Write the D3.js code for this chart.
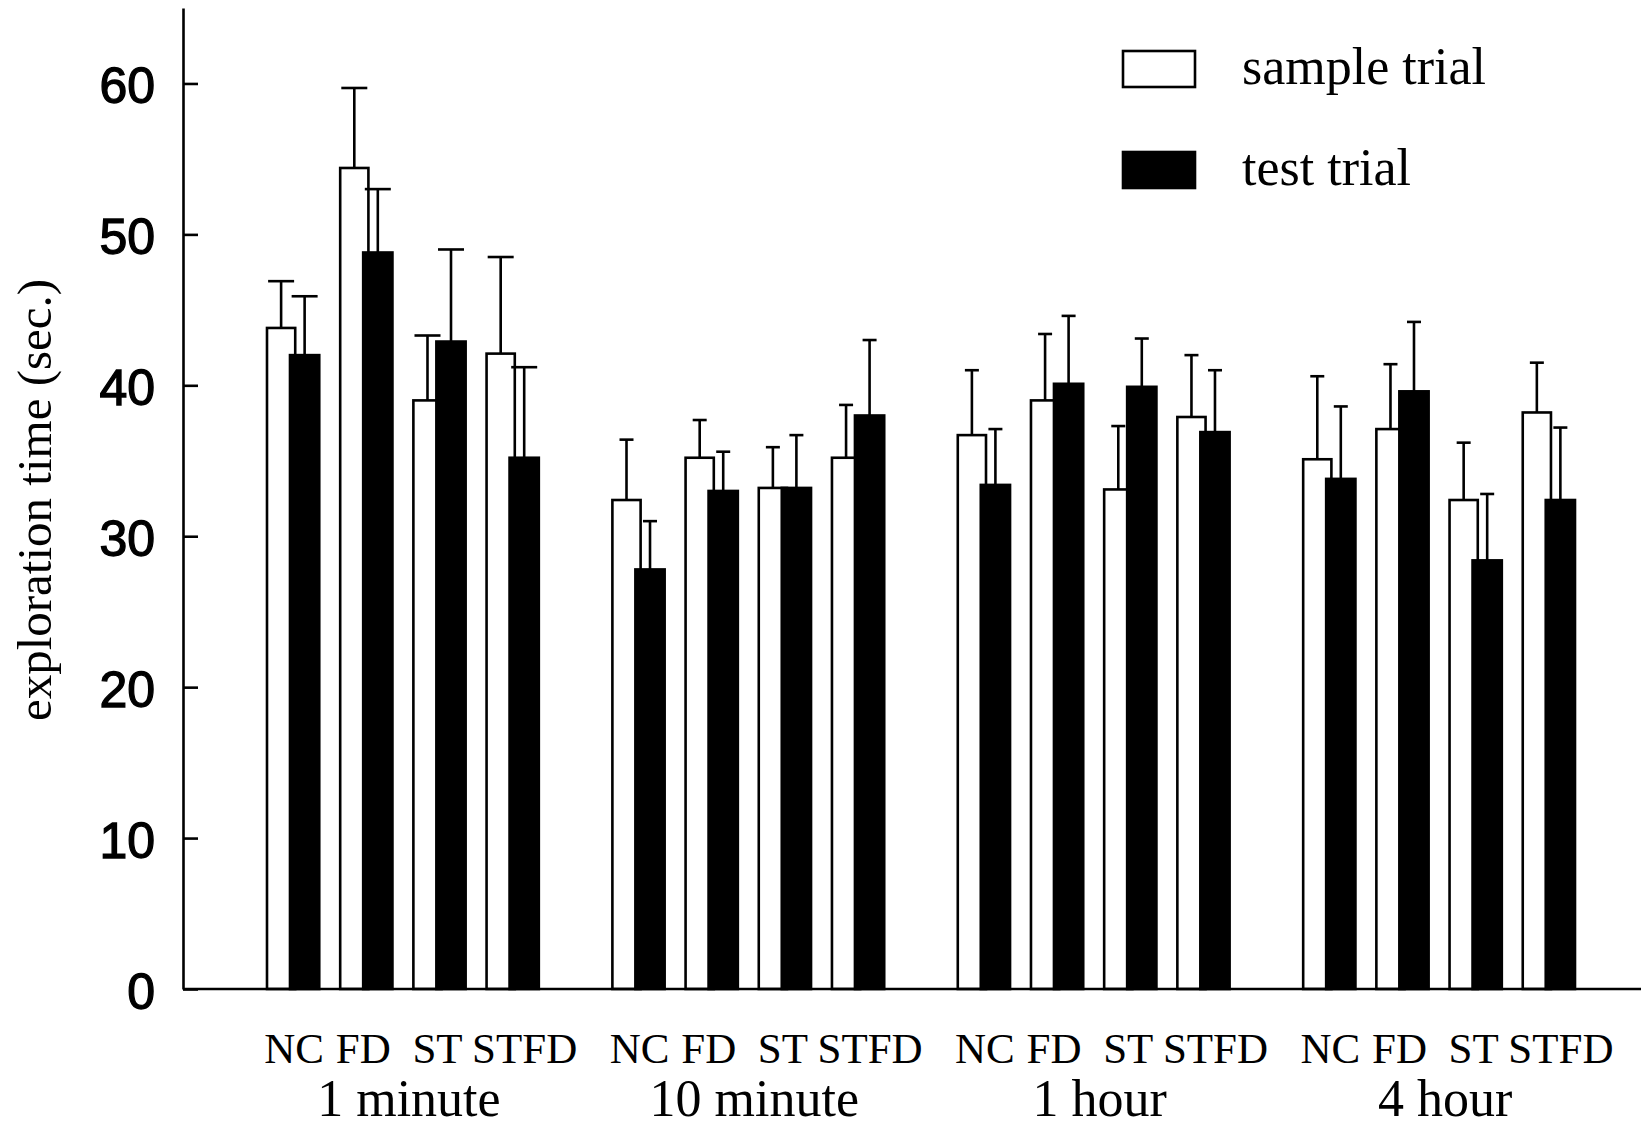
<!DOCTYPE html>
<html>
<head>
<meta charset="utf-8">
<script src="https://cdn.jsdelivr.net/npm/d3@7"></script>
<style>
  body { margin: 0; background: #fff; }
  svg { display: block; }
</style>
</head>
<body>
<div id="chart"></div>
<script>
// data
var groups = ["1 minute", "10 minute", "1 hour", "4 hour"];
var conditions = ["NC", "FD", "ST", "STFD"];
var series = ["sample trial", "test trial"];

var sampleMean = [
    [43.8, 54.4, 39.0, 42.1],
    [32.4, 35.2, 33.2, 35.2],
    [36.7, 39.0, 33.1, 37.9],
    [35.1, 37.1, 32.4, 38.2]
];
var sampleSem = [
    [3.1, 5.3, 4.3, 6.4],
    [4.0, 2.5, 2.7, 3.5],
    [4.3, 4.4, 4.2, 4.1],
    [5.5, 4.3, 3.8, 3.3]
];
var testMean = [
    [42.0, 48.8, 42.9, 35.2],
    [27.8, 33.0, 33.2, 38.0],
    [33.4, 40.1, 39.9, 36.9],
    [33.8, 39.6, 28.4, 32.4]
];
var testSem = [
    [3.9, 4.2, 6.1, 6.0],
    [3.2, 2.6, 3.5, 5.0],
    [3.7, 4.5, 3.2, 4.1],
    [4.8, 4.6, 4.4, 4.8]
];
var yTicks = [0, 10, 20, 30, 40, 50, 60];

var w = 1641,
    h = 1130,
    axisX = 183,
    stroke = 2.6;

// error cap widths per group (caps in the first panel are drawn wider)
var capWidths = [26, 14, 14, 14];
// small horizontal nudges of the condition labels, as typeset
var labelShift = { NC: 1, FD: -3, ST: -2, STFD: 12 };

var svg = d3.select("#chart").append("svg")
    .attr("width", w)
    .attr("height", h);

var y = d3.scaleLinear().domain([0, 65]).range([989, 8]);

var x0 = d3.scaleBand().domain(groups).range([267, 1575]).paddingInner(0.213);
var x1 = d3.scaleBand().domain(conditions).range([0, x0.bandwidth()]).paddingInner(0.286);

// flatten into bar records
var bars = [];
groups.forEach(function(g, gi) {
    conditions.forEach(function(c, ci) {
        bars.push({ group: g, gi: gi, cond: c, s: 0, mean: sampleMean[gi][ci], sem: sampleSem[gi][ci] });
        bars.push({ group: g, gi: gi, cond: c, s: 1, mean: testMean[gi][ci], sem: testSem[gi][ci] });
    });
});

function barX(d) {
    var bw = x1.bandwidth();
    return x0(d.group) + x1(d.cond) + (d.s === 0 ? 0 : bw * 0.44);
}
function barW(d) {
    var bw = x1.bandwidth();
    return d.s === 0 ? bw * 0.54 : bw * 0.56;
}

// bars: sample first, test drawn over it
var g = svg.append("g").attr("class", "bars");
g.selectAll("rect")
    .data(bars)
    .enter()
    .append("rect")
    .attr("x", barX)
    .attr("width", barW)
    .attr("y", function(d) { return y(d.mean); })
    .attr("height", function(d) { return y(0) - y(d.mean); })
    .style("fill", function(d) { return d.s === 0 ? "#fff" : "#000"; })
    .style("stroke", "#000")
    .style("stroke-width", stroke);

// error bars
var eb = svg.append("g").attr("class", "errors")
    .selectAll("g")
    .data(bars)
    .enter()
    .append("g");

eb.append("line")
    .attr("x1", function(d) { return barX(d) + barW(d) / 2; })
    .attr("x2", function(d) { return barX(d) + barW(d) / 2; })
    .attr("y1", function(d) { return y(d.mean); })
    .attr("y2", function(d) { return y(d.mean + d.sem); })
    .style("stroke", "#000")
    .style("stroke-width", stroke);

eb.append("line")
    .attr("x1", function(d) { return barX(d) + barW(d) / 2 - capWidths[d.gi] / 2; })
    .attr("x2", function(d) { return barX(d) + barW(d) / 2 + capWidths[d.gi] / 2; })
    .attr("y1", function(d) { return y(d.mean + d.sem); })
    .attr("y2", function(d) { return y(d.mean + d.sem); })
    .style("stroke", "#000")
    .style("stroke-width", stroke);

// y axis, ticks pointing inward
var yAxis = d3.axisLeft(y)
    .tickValues(yTicks)
    .tickSizeInner(-15)
    .tickSizeOuter(0)
    .tickPadding(28);

var ya = svg.append("g")
    .attr("transform", "translate(" + axisX + ",0)")
    .call(yAxis);
ya.select(".domain").style("stroke-width", stroke);
ya.selectAll(".tick line").style("stroke-width", stroke);
ya.selectAll(".tick text")
    .attr("dy", "0.38em")
    .style("font-family", "'Liberation Sans', Arial, sans-serif")
    .style("font-size", "50px")
    .style("fill", "#000")
    .style("stroke", "#000")
    .style("stroke-width", 1.3);

// x axis baseline
svg.append("line")
    .attr("x1", axisX)
    .attr("x2", w)
    .attr("y1", y(0))
    .attr("y2", y(0))
    .style("stroke", "#000")
    .style("stroke-width", stroke);

// condition labels under each pair
var labels = svg.append("g")
    .style("font-family", "'Liberation Serif', 'Times New Roman', serif")
    .style("fill", "#000");

groups.forEach(function(gname) {
    labels.selectAll(null)
        .data(conditions)
        .enter()
        .append("text")
        .attr("x", function(c) { return x0(gname) + x1(c) + x1.bandwidth() / 2 + labelShift[c]; })
        .attr("y", 1063)
        .attr("text-anchor", "middle")
        .style("font-size", "43px")
        .text(function(c) { return c; });
});

labels.selectAll(".gname")
    .data(groups)
    .enter()
    .append("text")
    .attr("class", "gname")
    .attr("x", function(d) { return x0(d) + x0.bandwidth() / 2 + 6; })
    .attr("y", 1116)
    .attr("text-anchor", "middle")
    .style("font-size", "52px")
    .text(function(d) { return d; });

// y axis title
svg.append("text")
    .attr("transform", "translate(51,500) rotate(-90)")
    .attr("text-anchor", "middle")
    .style("font-family", "'Liberation Serif', 'Times New Roman', serif")
    .style("font-size", "49px")
    .text("exploration time (sec.)");

// legend
var legend = svg.append("g")
    .selectAll("g")
    .data(series)
    .enter()
    .append("g")
    .attr("transform", function(d, i) { return "translate(1123," + (51 + i * 101) + ")"; });

legend.append("rect")
    .attr("width", 72)
    .attr("height", 36)
    .style("fill", function(d, i) { return i === 0 ? "#fff" : "#000"; })
    .style("stroke", "#000")
    .style("stroke-width", stroke);

legend.append("text")
    .attr("x", 119)
    .attr("y", 33)
    .style("font-family", "'Liberation Serif', 'Times New Roman', serif")
    .style("font-size", "52px")
    .text(function(d) { return d; });
</script>
</body>
</html>
